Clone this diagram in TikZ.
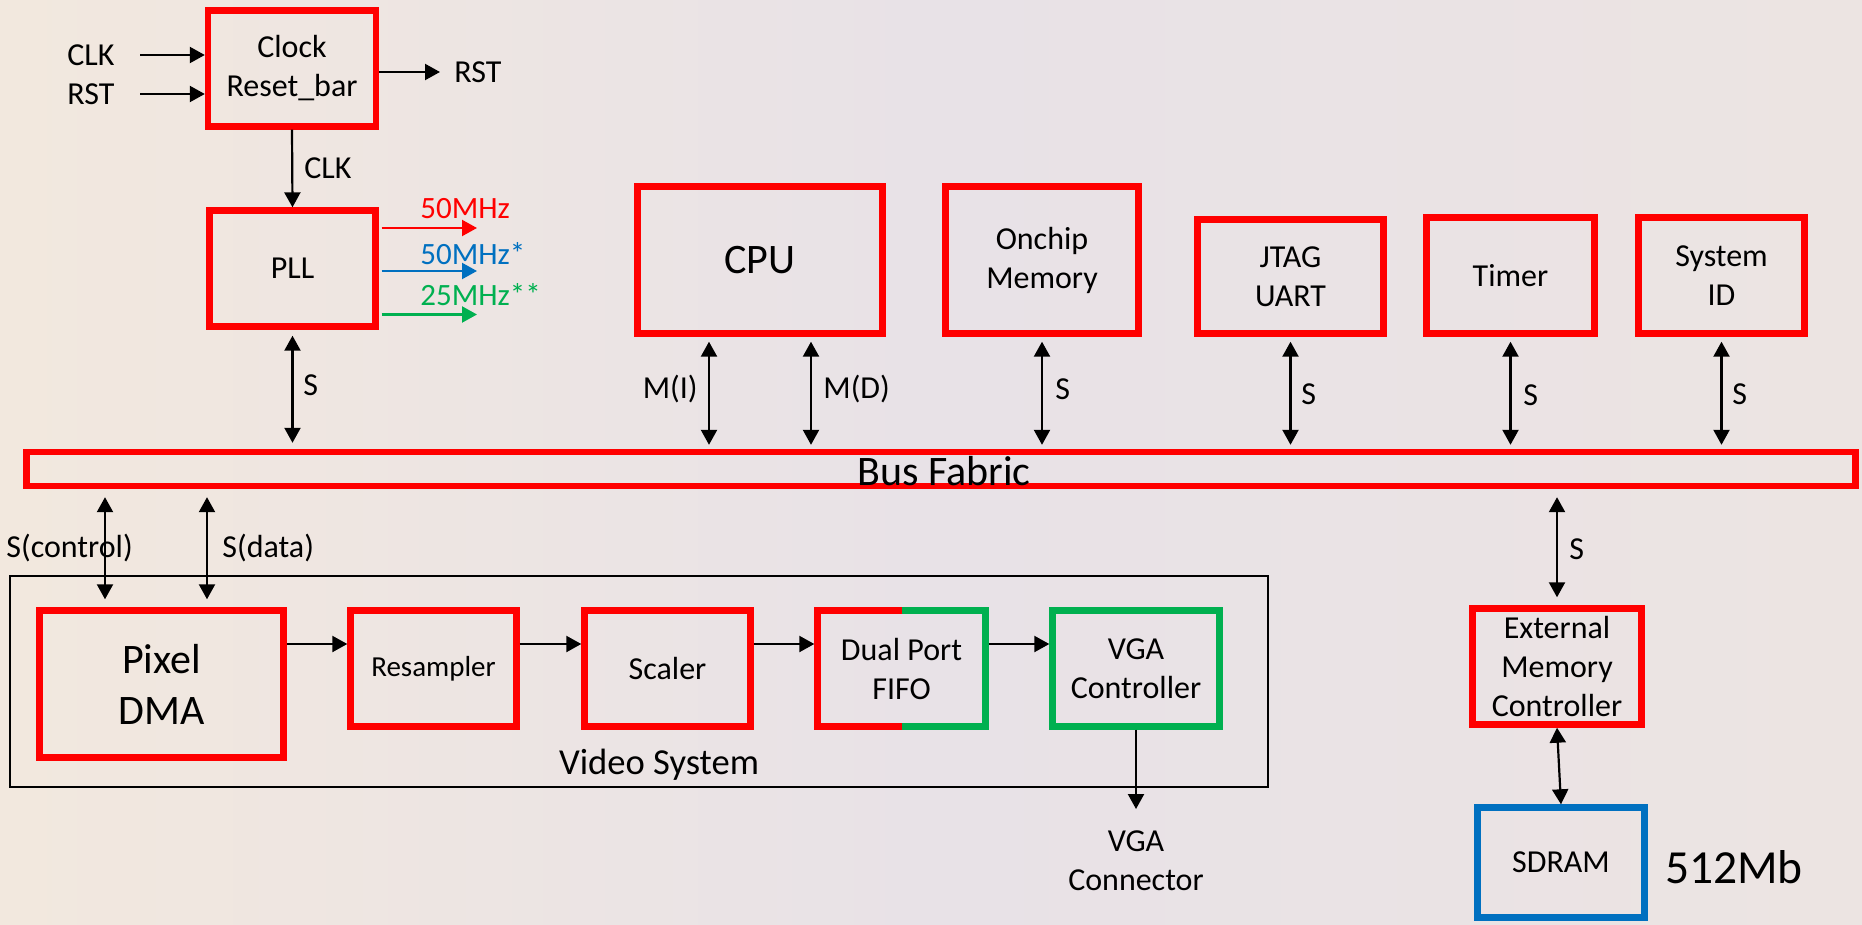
\documentclass[tikz,border=0pt]{standalone}
\usepackage{fontspec}
\setmainfont{Carlito}
\usetikzlibrary{arrows.meta}
\definecolor{pred}{RGB}{255,0,0}
\definecolor{pblue}{RGB}{0,112,192}
\definecolor{pgreen}{RGB}{0,176,80}
\definecolor{bgA}{RGB}{242,232,222}
\definecolor{bgB}{RGB}{232,226,231}
\definecolor{bgC}{RGB}{236,228,226}
\begin{document}
\begin{tikzpicture}[x=0.5pt,y=-0.5pt,
  txt/.style={font=\fontsize{16}{19.5}\selectfont, inner sep=0pt, align=center},
  rbox/.style={draw=pred, line width=3.2pt, inner sep=0pt, align=center, font=\fontsize{16}{19.5}\selectfont},
  gbox/.style={rbox, draw=pgreen},
  bbox/.style={rbox, draw=pblue},
  arr/.style={line width=1.1pt, -{Triangle[length=7.5pt,width=8pt]}},
  darr/.style={line width=1.1pt, {Triangle[length=7.5pt,width=8pt]}-{Triangle[length=7.5pt,width=8pt]}},
  big/.style={font=\fontsize{21}{25.5}\selectfont},
]
\fill[left color=bgA, right color=bgC, middle color=bgB] (0,0) rectangle (1862,925);
\useasboundingbox (0,0) rectangle (1862,925);

% top-left
\node[rbox, minimum width=84pt, minimum height=58pt] (clk) at (292,68.5) {Clock\\Reset\_bar};
\node[rbox, minimum width=83pt, minimum height=58pt] (pll) at (292.5,268.5) {PLL};

% top row
\node[rbox, big, minimum width=122.5pt, minimum height=73.5pt] (cpu) at (760,260) {CPU};
\node[rbox, minimum width=96.5pt, minimum height=73.5pt] (onchip) at (1042,260) {Onchip\\Memory};
\node[rbox, minimum width=93pt, minimum height=57pt] (jtag) at (1290.5,276.5) {JTAG\\UART};
\node[rbox, minimum width=84pt, minimum height=58pt] (timer) at (1510.5,275.5) {Timer};
\node[rbox, minimum width=83pt, minimum height=58pt] (sysid) at (1721.5,275.5) {System\\ID};

% bus
\node[rbox, minimum width=914.5pt, minimum height=17pt] (bus) at (941,469) {};
\node[txt, big] (buslbl) at (944,471) {Bus Fabric};

% video system
\node[draw=black, line width=1pt, minimum width=629pt, minimum height=105.5pt, inner sep=0pt] (video) at (638.75,681.5) {};
\node[txt, font=\fontsize{18.3}{22}\selectfont] (videolbl) at (659,765) {Video System};
\node[rbox, big, minimum width=122pt, minimum height=73.5pt] (dma) at (161.5,684) {Pixel\\DMA};
\node[rbox, font=\fontsize{14.5}{17.5}\selectfont, minimum width=83pt, minimum height=58pt] (res) at (433.5,668.5) {Resampler};
\node[rbox, minimum width=83pt, minimum height=58pt] (scl) at (667.5,668.5) {Scaler};
\node[txt, minimum width=84pt, minimum height=58pt, outer sep=0pt] (fifo) at (901.5,668.5) {Dual Port\\FIFO};
\draw[pred, line width=3.2pt] (fifo.north) -| (fifo.west) |- (fifo.south);
\draw[pgreen, line width=3.2pt] (fifo.north) -| (fifo.east) |- (fifo.south);
\node[gbox, minimum width=83.5pt, minimum height=58pt] (vga) at (1136,668.5) {VGA\\Controller};

% memory
\node[rbox, minimum width=84.5pt, minimum height=58pt] (emc) at (1557,666.5) {External\\Memory\\Controller};
\node[bbox, minimum width=83.5pt, minimum height=55pt] (sdram) at (1561,862.5) {SDRAM};
\node[txt, font=\fontsize{23.75}{28}\selectfont] (mb) at (1734,867) {512Mb};

% clock inputs / outputs
\node[txt] (lclk) at (91,55) {CLK};
\node[txt] (lrst) at (91,94) {RST};
\coordinate (clkin) at (140,55);
\coordinate (rstin) at (140,94);
\draw[arr] (clkin) -- (clkin -| clk.west);
\draw[arr] (rstin) -- (rstin -| clk.west);
\coordinate (rstout) at (440,72);
\draw[arr] (clk.east |- rstout) -- (rstout);
\node[txt, anchor=west] (lrsto) at (454,72) {RST};
\draw[arr] (clk.south) -- (pll.north);
\node[txt, anchor=west] (lclk2) at (304,168) {CLK};

% PLL outputs
\coordinate (f1) at (477,228);
\coordinate (f2) at (477,271);
\coordinate (f3) at (477,314.5);
\draw[arr, pred] ([xshift=1.5pt]pll.east |- f1) -- (f1);
\draw[arr, pblue] ([xshift=1.5pt]pll.east |- f2) -- (f2);
\draw[arr, pgreen] ([xshift=1.5pt]pll.east |- f3) -- (f3);
\node[txt, font=\fontsize{15.5}{19}\selectfont, text=pred, anchor=west] (lf1) at (420,209) {50MHz};
\node[txt, font=\fontsize{15.5}{19}\selectfont, text=pblue, anchor=west] (lf2) at (420,254) {50MHz*};
\node[txt, font=\fontsize{15.5}{19}\selectfont, text=pgreen, anchor=west] (lf3) at (420,295) {25MHz**};

% bus connections (top)
\draw[darr, shorten <=3pt, shorten >=3pt] (pll.south) -- (pll.south |- bus.north);
\node[txt, anchor=west] (lspll) at (303,385) {S};
\draw[darr, shorten <=2.5pt, shorten >=2pt] ([xshift=-25.5pt]cpu.south) -- ([xshift=-25.5pt]cpu.south |- bus.north);
\draw[darr, shorten <=2.5pt, shorten >=2pt] ([xshift=25.5pt]cpu.south) -- ([xshift=25.5pt]cpu.south |- bus.north);
\node[txt, anchor=east] (lmi) at (698,389) {M(I)};
\node[txt, anchor=west] (lmd) at (823,389) {M(D)};
\draw[darr, shorten <=2.5pt, shorten >=2pt] (onchip.south) -- (onchip.south |- bus.north);
\node[txt, anchor=west] (lson) at (1055,389) {S};
\draw[darr, shorten <=2.5pt, shorten >=2pt] (jtag.south) -- (jtag.south |- bus.north);
\node[txt, anchor=west] (lsjt) at (1301,394) {S};
\draw[darr, shorten <=2.5pt, shorten >=2pt] (timer.south) -- (timer.south |- bus.north);
\node[txt, anchor=west] (lstm) at (1523,395) {S};
\draw[darr, shorten <=2.5pt, shorten >=2pt] (sysid.south) -- (sysid.south |- bus.north);
\node[txt, anchor=west] (lssy) at (1732,394) {S};

% bus connections (bottom)
\draw[darr, shorten <=4pt, shorten >=4pt] ([xshift=-28.25pt]dma.north |- bus.south) -- ([xshift=-28.25pt]dma.north);
\draw[darr, shorten <=4pt, shorten >=4pt] ([xshift=22.75pt]dma.north |- bus.south) -- ([xshift=22.75pt]dma.north);
\node[txt, anchor=west] (lsc) at (6,548) {S(control)};
\node[txt, anchor=west] (lsd) at (222,548) {S(data)};
\draw[darr, shorten <=4pt, shorten >=4pt] (emc.north |- bus.south) -- (emc.north);
\node[txt, anchor=west] (lsem) at (1569,549) {S};

% video chain
\coordinate (vrow) at (0,644);
\draw[arr] (dma.east |- vrow) -- (res.west |- vrow);
\draw[arr] (res.east |- vrow) -- (scl.west |- vrow);
\draw[arr, shorten >=1.6pt] (scl.east |- vrow) -- (fifo.west |- vrow);
\draw[arr, shorten <=1.6pt] (fifo.east |- vrow) -- (vga.west |- vrow);
\coordinate (vgaout) at (1136,809);
\draw[arr] (vga.south) -- (vgaout);
\node[txt] (lvgac) at (1136,860.5) {VGA\\Connector};

% memory link
\draw[darr] (emc.south) -- (sdram.north);
\end{tikzpicture}
\end{document}
